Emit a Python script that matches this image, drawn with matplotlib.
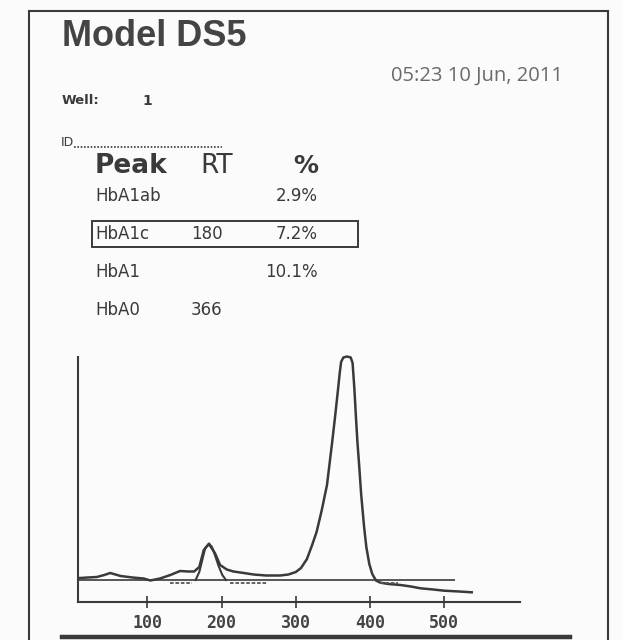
import numpy as np
import matplotlib
matplotlib.use("Agg")
import matplotlib.pyplot as plt
from matplotlib.lines import Line2D
from matplotlib.patches import Rectangle

# --- header / table values
title = "Model DS5"
stamp = "05:23 10 Jun, 2011"
well = "1"
peaks = ["HbA1ab", "HbA1c", "HbA1", "HbA0"]
rts = ["", "180", "", "366"]
pcts = ["2.9%", "7.2%", "10.1%", ""]
boxed = "HbA1c"

# --- chromatogram
sig_x = [9, 20, 32, 42, 50, 57, 64, 80, 95, 104, 117, 131, 144, 155, 163, 170,
         176, 183, 191, 198, 207, 216, 230, 243, 260, 279, 290, 300, 307, 315,
         322, 328, 335, 342, 349, 353, 356.5, 359, 361, 364, 369, 374, 376.5,
         379, 381, 383, 385.5, 388, 392, 395, 399, 403, 408, 414, 425, 441,
         455, 468, 485, 500, 520, 537]
sig_y = [24, 24.5, 25, 27, 29, 27.5, 26, 24.5, 23.5, 21.5, 23.5, 27, 31, 30.5,
         30.5, 35, 52, 58, 49, 37, 32.5, 30.5, 29, 27.5, 26.5, 26.5, 27.5, 30,
         34, 43, 57, 70, 92, 117, 160, 186, 210, 228, 240, 244.5, 245.5, 244.5,
         239, 212, 185, 160, 135, 108, 75, 55, 38, 28, 21.5, 19.3, 18, 17,
         15.5, 13.7, 12.5, 11.3, 10.5, 9.7]

fit_x = [165, 170, 174, 178, 183, 187, 191, 196, 201, 206]
fit_y = [22, 30, 42, 54, 58.5, 55, 47, 36, 27, 22]

base_y = 22
base_x = [6.6, 514]
marks = [(131, 160), (211, 261), (414, 437)]
mark_y = 19.5

ticks = [100, 200, 300, 400, 500]

ink = "#3a3a3a"
W, H = 622, 640

fig = plt.figure(figsize=(W / 100, H / 100), dpi=100)
fig.patch.set_facecolor("#fbfbfb")


def fx(x):
    return x / W


def fy(y):
    return 1 - y / H


def line(x0, y0, x1, y1, lw=1.5, **kw):
    fig.add_artist(Line2D([fx(x0), fx(x1)], [fy(y0), fy(y1)], color=ink, lw=lw, **kw))


# frame
line(29, 11, 608, 11)
line(29, 11, 29, 640)
line(608, 11, 608, 640)
line(62, 637, 570, 637, lw=3.2)

fig.text(fx(62), fy(37), title, fontsize=26, fontweight="bold", color="#444444",
         family="Liberation Sans", va="center", ha="left")
fig.text(fx(391), fy(76), stamp, fontsize=14.5, color="#6a6a6a",
         family="Open Sans", va="center", ha="left")

fig.text(fx(62), fy(101), "Well:", fontsize=9.5, fontweight="bold", color=ink, va="center")
fig.text(fx(142), fy(101), well, fontsize=10, fontweight="bold", color=ink, va="center")
fig.text(fx(61), fy(142), "ID", fontsize=9, color=ink, va="center")
line(74, 147, 222, 147, lw=1.2, ls=(0, (1, 1)))

fig.text(fx(95), fy(166), "Peak", fontsize=19, fontweight="bold", color=ink, va="center")
fig.text(fx(200), fy(166), "RT", fontsize=19, color=ink, va="center")
fig.text(fx(318), fy(166), "%", fontsize=18, fontweight="bold", color=ink,
         va="center", ha="right")

row_y = [196, 234, 272, 310]
for name, rt, pc, yy in zip(peaks, rts, pcts, row_y):
    fig.text(fx(95), fy(yy), name, fontsize=12, color=ink, va="center")
    if rt:
        fig.text(fx(191), fy(yy), rt, fontsize=12, color=ink, va="center")
    if pc:
        fig.text(fx(318), fy(yy), pc, fontsize=12, color=ink, va="center", ha="right")
    if name == boxed:
        fig.add_artist(Rectangle((fx(92), fy(yy + 13)), fx(358) - fx(92),
                                 fy(yy - 13) - fy(yy + 13), fill=False,
                                 ec=ink, lw=1.4))

# chromatogram axes
ax = fig.add_axes([fx(78), fy(602), fx(520) - fx(78), fy(357) - fy(602)])
ax.set_facecolor("none")
ax.plot(sig_x, sig_y, color=ink, lw=1.8, clip_on=False, solid_joinstyle="round")
ax.plot(fit_x, fit_y, color=ink, lw=1.5)
ax.hlines(base_y, base_x[0], base_x[1], color=ink, lw=1.2)
for a, b in marks:
    ax.hlines(mark_y, a, b, color="#555555", lw=1.3, linestyles=(0, (2, 1)))

ax.set_xlim(6.6, 602)
ax.set_ylim(0, 245)
ax.set_xticks(ticks)
ax.set_xticklabels([str(t) for t in ticks], family="DejaVu Sans Mono",
                   fontsize=12, fontweight="bold", color="#444444")
ax.tick_params(axis="x", direction="inout", length=9, width=1.2, color=ink, pad=4)
ax.set_yticks([])
for s in ["top", "right"]:
    ax.spines[s].set_visible(False)
for s in ["left", "bottom"]:
    ax.spines[s].set_color(ink)
    ax.spines[s].set_linewidth(1.5)

fig.savefig("out.png", dpi=100, facecolor=fig.get_facecolor())
